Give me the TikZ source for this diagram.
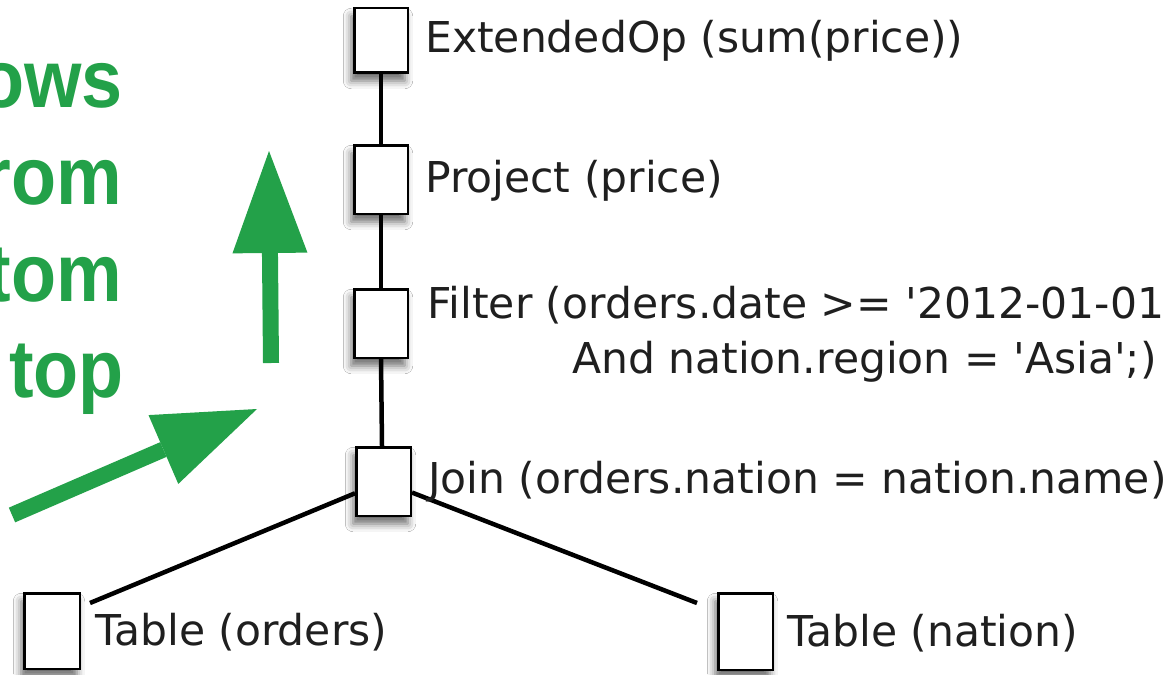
\documentclass[tikz,border=0pt]{standalone}
\usepackage{fontspec}
\setmainfont{DejaVu Sans}
\newfontfamily\greenfont{Liberation Sans}[FakeStretch=0.9]
\usetikzlibrary{arrows.meta,shadows.blur,calc}
\definecolor{grn}{RGB}{35,161,73}
\tikzset{
  opbox/.style={draw=black, line width=2.5pt, fill=white, inner sep=0pt,
    blur shadow={shadow xshift=-3pt, shadow yshift=-8pt, shadow blur radius=8pt, shadow opacity=60}},
  lbl/.style={anchor=base west, inner sep=0pt, text=black!88,
    font=\fontsize{42.5}{55}\selectfont},
  treeedge/.style={line width=4.5pt, draw=black},
  gtxt/.style={anchor=base east, inner sep=0pt, text=grn,
    font=\greenfont\bfseries\fontsize{82}{96}\selectfont},
  garrow/.style={draw=grn, line width=16pt,
    -{Triangle[width=75pt,length=102pt,line width=0pt]}}
}
\begin{document}
\begin{tikzpicture}[x=1pt,y=1pt]
\useasboundingbox (0,0) rectangle (1174,-674);
\fill[white] (0,0) rectangle (1174,-674);
\clip (0,0) rectangle (1174,-674);

% green annotation
\node[gtxt] (g1) at (123,-108) {ows};
\node[gtxt] (g2) at (122,-204) {rom};
\node[gtxt] (g3) at (122,-301) {tom};
\node[gtxt] (g4) at (124,-397) {top};
\coordinate (ua1) at (271,-363);
\coordinate (ua2) at (269,-151);
\coordinate (da1) at (12,-515);
\coordinate (da2) at (257,-409);
\draw[garrow] (ua1) -- (ua2);
\draw[garrow] (da1) -- (da2);

% operator boxes
\node[opbox, minimum width=53.5pt, minimum height=64.5pt] (ext) at (381,-40.5) {};
\node[opbox, minimum width=53.5pt, minimum height=68.5pt] (proj) at (381,-179.5) {};
\node[opbox, minimum width=53.5pt, minimum height=68.5pt] (filt) at (381,-323.5) {};
\node[opbox, minimum width=54.5pt, minimum height=68.5pt] (join) at (383.5,-481.5) {};
\node[opbox, minimum width=55.5pt, minimum height=75.5pt] (tord) at (52,-631) {};
\node[opbox, minimum width=54.5pt, minimum height=76.5pt] (tnat) at (745.5,-631.5) {};

% connectors
\coordinate (lend) at (90,-603);
\coordinate (rend) at (697,-603);
\draw[treeedge] (ext.south) -- (proj.north);
\draw[treeedge] (proj.south) -- (filt.north);
\draw[treeedge] (filt.south) -- ([xshift=-1.5pt]join.north);
\draw[treeedge] (join) -- (lend);
\draw[treeedge] (join) -- (rend);

% labels
\node[lbl] (extL) at (425,-53) {ExtendedOp (sum(price))};
\node[lbl] (projL) at (425,-192) {Project (price)};
\node[lbl] (filtL) at (427,-318) {Filter (orders.date >= \textquotesingle 2012-01-01};
\node[lbl, anchor=base east] (filtL2) at (1157,-373) {And nation.region = \textquotesingle Asia\textquotesingle;)};
\node[lbl] (joinL) at (428,-493) {Join (orders.nation = nation.name)};
\node[lbl] (tordL) at (95,-645) {Table (orders)};
\node[lbl] (tnatL) at (787,-646) {Table (nation)};
\end{tikzpicture}
\end{document}
